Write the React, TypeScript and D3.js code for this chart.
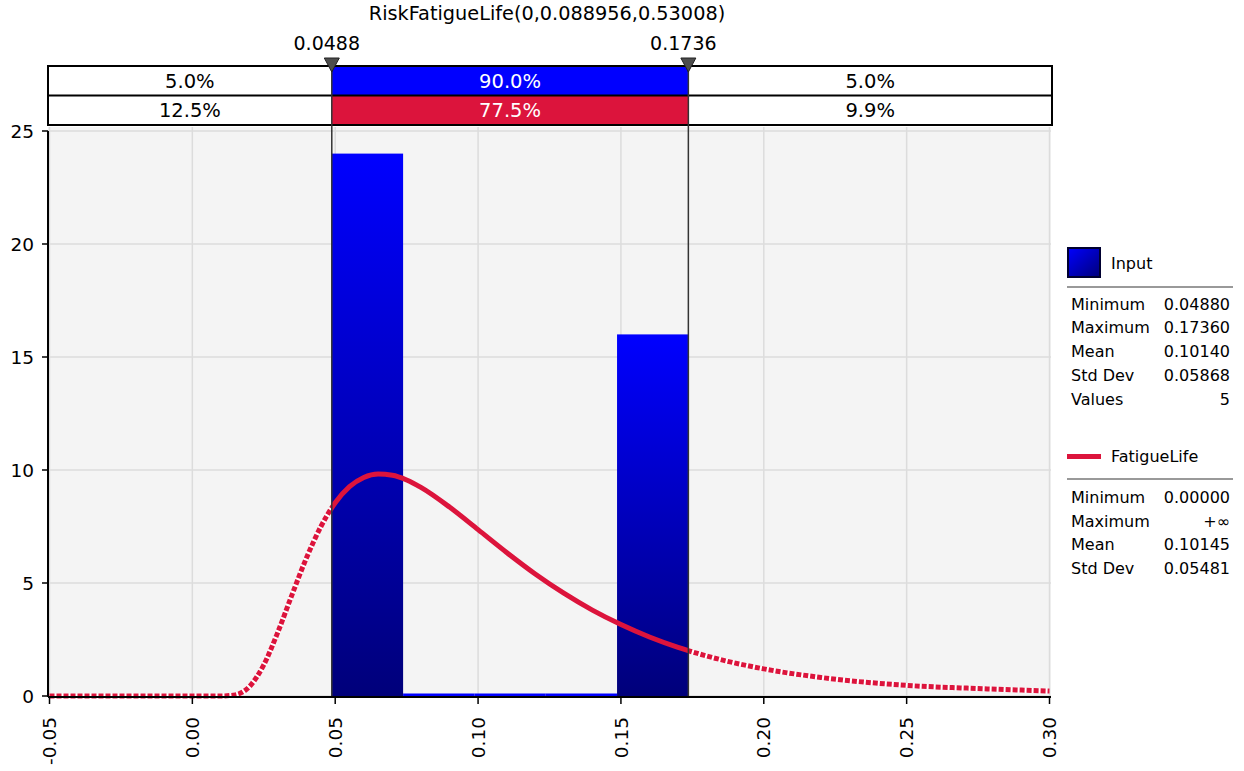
import React from 'react'
import * as d3 from 'd3'

const W = 1244
const H = 771
const FONT = '"DejaVu Sans", Verdana, sans-serif'
const RED = '#dc143c'

// histogram of the 5 input values (density)
const binEdges = [0.0488, 0.07376, 0.09872, 0.12368, 0.14864, 0.1736]
const binDensity = [24, 0, 0, 0, 16]

// fitted FatigueLife density
const curveX = [-0.05, 0.0, 0.01, 0.015, 0.02, 0.025, 0.03, 0.035, 0.04, 0.045, 0.05, 0.055, 0.06, 0.065, 0.07, 0.075, 0.08, 0.09, 0.1, 0.11, 0.12, 0.13, 0.14, 0.15, 0.16, 0.17, 0.18, 0.2, 0.22, 0.25, 0.275, 0.3]
const curveY = [0, 0, 0, 0.05, 0.42, 1.38, 2.85, 4.52, 6.13, 7.5, 8.55, 9.26, 9.67, 9.82, 9.77, 9.56, 9.23, 8.36, 7.36, 6.35, 5.4, 4.55, 3.8, 3.16, 2.61, 2.15, 1.77, 1.2, 0.82, 0.47, 0.33, 0.22]

const markers = [0.0488, 0.1736]
const markerLabels = ['0.0488', '0.1736']
const inputPct = ['5.0%', '90.0%', '5.0%']
const fitPct = ['12.5%', '77.5%', '9.9%']

const xTicks = [-0.05, 0, 0.05, 0.1, 0.15, 0.2, 0.25, 0.3]
const yTicks = [0, 5, 10, 15, 20, 25]

const inputStatNames = ['Minimum', 'Maximum', 'Mean', 'Std Dev', 'Values']
const inputStatValues = ['0.04880', '0.17360', '0.10140', '0.05868', '5']
const fitStatNames = ['Minimum', 'Maximum', 'Mean', 'Std Dev']
const fitStatValues = ['0.00000', '+∞', '0.10145', '0.05481']

const TITLE = 'RiskFatigueLife(0,0.088956,0.53008)'

const x = d3.scaleLinear().domain([-0.05, 0.3]).range([49.5, 1049.5])
const y = d3.scaleLinear().domain([0, 25]).range([696, 131])

const plotTop = 127
const plotLeft = 48
const plotRight = 1051
const tableTop = 66
const rowH = 29.5

const fmtTick = (t: number) => d3.format('.2f')(t).replace('\u2212', '-')

const App = () => {
  const pts: [number, number][] = curveX.map((v, i) => [v, curveY[i]])
  const line = d3
    .line<[number, number]>()
    .x(d => x(d[0]))
    .y(d => y(d[1]))
    .curve(d3.curveMonotoneX)
  const path = line(pts) || ''

  const m0 = x(markers[0])
  const m1 = x(markers[1])
  const cells = [
    [plotLeft, m0],
    [m0, m1],
    [m1, plotRight + 1]
  ]

  const bins = binDensity.map((d, i) => ({ x0: binEdges[i], x1: binEdges[i + 1], d }))

  const lx = 1067
  const vx = 1230

  return (
    <svg
      width={W}
      height={H}
      style={{ position: 'absolute', left: 0, top: 0, background: '#fff' }}
      fontFamily={FONT}
    >
      <defs>
        <linearGradient id="barGrad" x1="0" y1="0" x2="0" y2="1">
          <stop offset="0" stopColor="#0000ff" />
          <stop offset="1" stopColor="#00007a" />
        </linearGradient>
        <linearGradient id="swatchGrad" x1="0" y1="0" x2="1" y2="1">
          <stop offset="0" stopColor="#0000ff" />
          <stop offset="1" stopColor="#00007a" />
        </linearGradient>
        <clipPath id="inside">
          <rect x={m0} y={0} width={m1 - m0} height={H} />
        </clipPath>
        <clipPath id="outsideL">
          <rect x={0} y={0} width={m0} height={H} />
        </clipPath>
        <clipPath id="outsideR">
          <rect x={m1} y={0} width={W - m1} height={H} />
        </clipPath>
      </defs>

      {/* title */}
      <text x={547} y={20} textAnchor="middle" fontSize={19.3} fill="#000">
        {TITLE}
      </text>

      {/* plot background + grid */}
      <rect x={plotLeft} y={plotTop} width={plotRight - plotLeft} height={y(0) - plotTop} fill="#f4f4f4" />
      {xTicks.map(t => (
        <line key={'gx' + t} x1={x(t)} x2={x(t)} y1={plotTop} y2={y(0)} stroke="#dcdcdc" strokeWidth={1.5} />
      ))}
      {yTicks.map(t => (
        <line key={'gy' + t} x1={plotLeft} x2={plotRight} y1={y(t)} y2={y(t)} stroke="#dcdcdc" strokeWidth={1.5} />
      ))}

      {/* histogram bars */}
      {bins.map((b, i) => {
        const h = Math.max(2.5, y(0) - y(b.d))
        return (
          <rect
            key={'b' + i}
            x={x(b.x0)}
            y={y(0) - h}
            width={x(b.x1) - x(b.x0)}
            height={h}
            fill={b.d > 0 ? 'url(#barGrad)' : '#0000ff'}
          />
        )
      })}

      {/* fitted curve: dashed outside markers, solid inside */}
      {['outsideL', 'outsideR'].map(id => (
        <g key={id} clipPath={`url(#${id})`}>
          <path d={path} fill="none" stroke="#fff" strokeWidth={5} />
          <path d={path} fill="none" stroke={RED} strokeWidth={5} strokeDasharray="5 2" />
        </g>
      ))}
      <g clipPath="url(#inside)">
        <path d={path} fill="none" stroke={RED} strokeWidth={5} />
      </g>

      {/* axes */}
      <line x1={plotLeft} x2={plotLeft} y1={y(25)} y2={y(0) + 1} stroke="#000" strokeWidth={2} />
      <line x1={plotLeft} x2={plotRight} y1={y(0) + 1} y2={y(0) + 1} stroke="#000" strokeWidth={2} />
      {yTicks.map(t => (
        <g key={'yt' + t}>
          <line x1={plotLeft - 6} x2={plotLeft} y1={y(t)} y2={y(t)} stroke="#000" strokeWidth={1.5} />
          <text x={34} y={y(t)} dy="0.36em" textAnchor="end" fontSize={18.5} fill="#000">
            {t}
          </text>
        </g>
      ))}
      {xTicks.map(t => (
        <g key={'xt' + t}>
          <line x1={x(t)} x2={x(t)} y1={y(0) + 1} y2={y(0) + 8} stroke="#000" strokeWidth={1.5} />
          <text
            transform={`translate(${x(t)},${y(0) + 21}) rotate(-90)`}
            dy="0.36em"
            textAnchor="end"
            fontSize={18.5}
            fill="#000"
          >
            {fmtTick(t)}
          </text>
        </g>
      ))}

      {/* percentage table */}
      {cells.map((c, i) => (
        <g key={'c' + i}>
          <rect
            x={c[0]}
            y={tableTop}
            width={c[1] - c[0]}
            height={rowH}
            fill={i === 1 ? '#0000ff' : '#fff'}
          />
          <rect
            x={c[0]}
            y={tableTop + rowH}
            width={c[1] - c[0]}
            height={rowH}
            fill={i === 1 ? RED : '#fff'}
          />
          <text
            x={(c[0] + c[1]) / 2}
            y={tableTop + rowH / 2}
            dy="0.36em"
            textAnchor="middle"
            fontSize={19.5}
            fill={i === 1 ? '#fff' : '#000'}
          >
            {inputPct[i]}
          </text>
          <text
            x={(c[0] + c[1]) / 2}
            y={tableTop + rowH * 1.5}
            dy="0.36em"
            textAnchor="middle"
            fontSize={19.5}
            fill={i === 1 ? '#fff' : '#000'}
          >
            {fitPct[i]}
          </text>
        </g>
      ))}
      <rect
        x={plotLeft}
        y={tableTop}
        width={plotRight + 1 - plotLeft}
        height={rowH * 2}
        fill="none"
        stroke="#000"
        strokeWidth={2}
      />
      <line x1={plotLeft} x2={plotRight + 1} y1={tableTop + rowH} y2={tableTop + rowH} stroke="#000" strokeWidth={2} />

      {/* marker lines and handles */}
      {markers.map((mv, i) => (
        <g key={'m' + i}>
          <line x1={x(mv)} x2={x(mv)} y1={tableTop} y2={y(0)} stroke="#333" strokeWidth={1.5} />
          <path
            d={`M${x(mv) - 7.5},${tableTop - 8} L${x(mv) + 7.5},${tableTop - 8} L${x(mv)},${tableTop + 6} Z`}
            fill="#4d4d4d"
            stroke="#222"
            strokeWidth={1}
          />
          <text x={x(mv) - 5} y={50} textAnchor="middle" fontSize={19} fill="#000">
            {markerLabels[i]}
          </text>
        </g>
      ))}

      {/* legend: input */}
      <rect x={lx + 1} y={248} width={32} height={29} fill="url(#swatchGrad)" stroke="#000030" strokeWidth={2} />
      <text x={1111} y={263} dy="0.36em" fontSize={16} fill="#000">
        Input
      </text>
      <line x1={lx} x2={1233} y1={287} y2={287} stroke="#999" strokeWidth={2} />
      {inputStatNames.map((n, i) => (
        <g key={'is' + i}>
          <text x={1071} y={304 + i * 23.7} dy="0.36em" fontSize={16} fill="#000">
            {n}
          </text>
          <text x={vx} y={304 + i * 23.7} dy="0.36em" textAnchor="end" fontSize={16} fill="#000">
            {inputStatValues[i]}
          </text>
        </g>
      ))}

      {/* legend: fit */}
      <line x1={lx} x2={1101} y1={456.5} y2={456.5} stroke={RED} strokeWidth={5} />
      <text x={1111} y={456} dy="0.36em" fontSize={16} fill="#000">
        FatigueLife
      </text>
      <line x1={lx} x2={1233} y1={479} y2={479} stroke="#999" strokeWidth={2} />
      {fitStatNames.map((n, i) => (
        <g key={'fs' + i}>
          <text x={1071} y={497 + i * 23.8} dy="0.36em" fontSize={16} fill="#000">
            {n}
          </text>
          <text x={vx} y={497 + i * 23.8} dy="0.36em" textAnchor="end" fontSize={16} fill="#000">
            {fitStatValues[i]}
          </text>
        </g>
      ))}
    </svg>
  )
}

export default App
